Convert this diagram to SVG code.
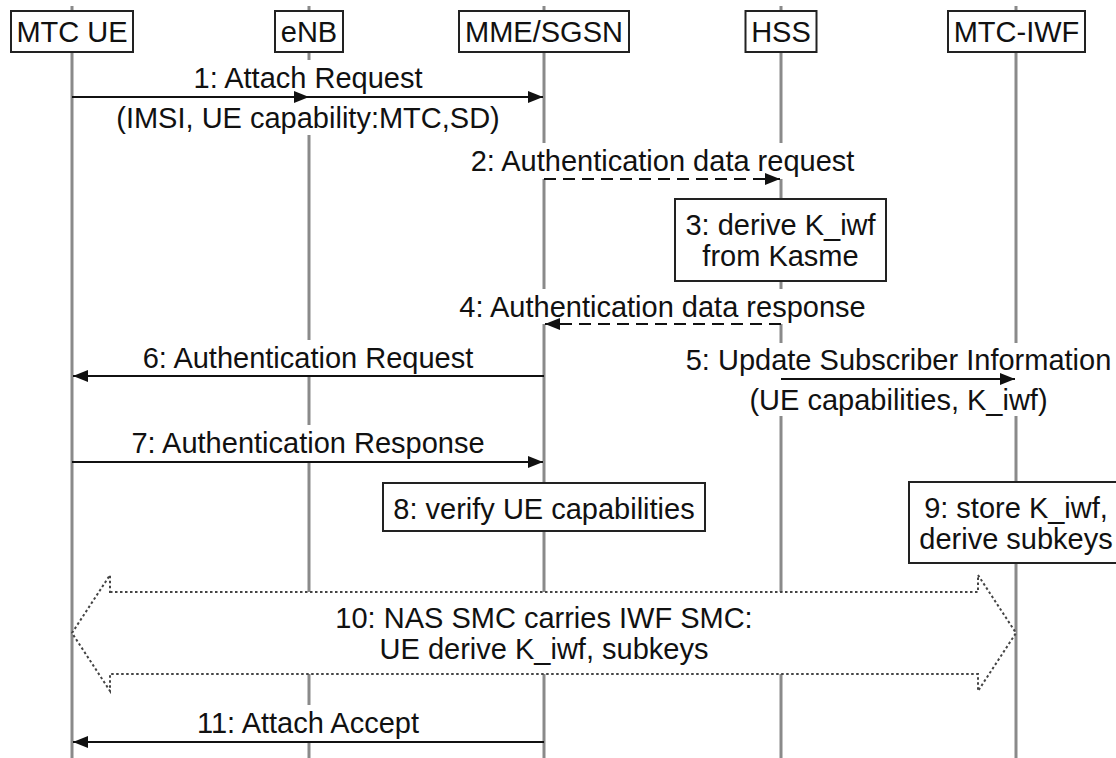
<svg xmlns="http://www.w3.org/2000/svg" width="1116" height="758" viewBox="0 0 1116 758">
  <style>
    text { font-family: "Liberation Sans", Arial, sans-serif; font-size: 29px; fill: #111; text-anchor: middle; }
    .life { stroke: #8a8a8a; stroke-width: 3; fill: none; }
    .box { fill: #fff; stroke: #222; stroke-width: 2; }
    .bg { fill: #fff; stroke: none; }
    .msg { stroke: #111; stroke-width: 2; fill: none; marker-end: url(#head); }
    .dash { stroke-dasharray: 12 7; }
    .dots { fill: #fff; stroke: #444; stroke-width: 2; stroke-dasharray: 2.5 2.5; }
  </style>
  <defs>
    <marker id="head" viewBox="0 0 15 12" refX="15" refY="6" markerWidth="15" markerHeight="12" markerUnits="userSpaceOnUse" orient="auto">
      <path d="M0,0 L15,6 L0,12 Z" fill="#111"/>
    </marker>
  </defs>

  <rect width="1116" height="758" fill="#fff"/>

  <!-- lifelines -->
  <g id="lifelines">
    <line class="life" x1="72" y1="6" x2="72" y2="758"/>
    <line class="life" x1="309" y1="6" x2="309" y2="758"/>
    <line class="life" x1="544" y1="6" x2="544" y2="758"/>
    <line class="life" x1="781" y1="6" x2="781" y2="758"/>
    <line class="life" x1="1016" y1="6" x2="1016" y2="758"/>
  </g>

  <!-- participants -->
  <g id="mtc-ue">
    <rect class="box" x="11" y="11" width="122" height="41"/>
    <text x="72" y="42">MTC UE</text>
  </g>
  <g id="enb">
    <rect class="box" x="275" y="11" width="68" height="41"/>
    <text x="309" y="42">eNB</text>
  </g>
  <g id="mme-sgsn">
    <rect class="box" x="459" y="11" width="170" height="41"/>
    <text x="544" y="42">MME/SGSN</text>
  </g>
  <g id="hss">
    <rect class="box" x="745.5" y="11" width="71" height="41"/>
    <text x="781" y="42">HSS</text>
  </g>
  <g id="mtc-iwf">
    <rect class="box" x="948" y="11" width="137" height="41"/>
    <text x="1016.5" y="42">MTC-IWF</text>
  </g>

  <!-- local actions -->
  <g id="step-3">
    <rect class="box" x="675" y="199" width="211" height="82"/>
    <text x="780.5" y="235">3: derive K_iwf</text>
    <text x="780.5" y="266">from Kasme</text>
  </g>
  <g id="step-8">
    <rect class="box" x="383" y="483" width="322" height="48"/>
    <text x="544" y="519">8: verify UE capabilities</text>
  </g>
  <g id="step-9">
    <rect class="box" x="909" y="482" width="214" height="81"/>
    <text x="1016" y="518">9: store K_iwf,</text>
    <text x="1016" y="549">derive subkeys</text>
  </g>

  <!-- messages -->
  <g id="connectors">
    <g id="msg-1">
      <rect class="bg" x="190" y="60" width="236" height="37"/>
      <rect class="bg" x="113" y="97" width="390" height="38"/>
      <line class="msg" x1="72" y1="97" x2="309" y2="97"/>
      <line class="msg" x1="309" y1="97" x2="543" y2="97"/>
      <text x="308" y="88">1: Attach Request</text>
      <text x="308" y="128">(IMSI, UE capability:MTC,SD)</text>
    </g>
    <g id="msg-2">
      <rect class="bg" x="468" y="143" width="390" height="36"/>
      <line class="msg dash" x1="544" y1="179" x2="780" y2="179"/>
      <text x="662.5" y="171">2: Authentication data request</text>
    </g>
    <g id="msg-4">
      <rect class="bg" x="456" y="289" width="413" height="35"/>
      <line class="msg dash" x1="781" y1="324" x2="545" y2="324"/>
      <text x="662.5" y="317">4: Authentication data response</text>
    </g>
    <g id="msg-5">
      <rect class="bg" x="684" y="343" width="430" height="36"/>
      <rect class="bg" x="744" y="379" width="309" height="37"/>
      <line class="msg" x1="781" y1="379" x2="1015" y2="379"/>
      <text x="898.5" y="370">5: Update Subscriber Information</text>
      <text x="898.5" y="410">(UE capabilities, K_iwf)</text>
    </g>
    <g id="msg-6">
      <rect class="bg" x="140" y="340" width="336" height="36"/>
      <line class="msg" x1="544" y1="376" x2="73" y2="376"/>
      <text x="308" y="368">6: Authentication Request</text>
    </g>
    <g id="msg-7">
      <rect class="bg" x="135" y="425" width="346" height="37"/>
      <line class="msg" x1="72" y1="462" x2="543" y2="462"/>
      <text x="308" y="453">7: Authentication Response</text>
    </g>
    <g id="msg-10">
      <polygon class="dots" points="110,592 978,592 978,575 1016,633 978,691 978,674 110,674 110,691 72,633 110,575"/>
      <text x="544" y="628">10: NAS SMC carries IWF SMC:</text>
      <text x="544" y="659">UE derive K_iwf, subkeys</text>
    </g>
    <g id="msg-11">
      <rect class="bg" x="190" y="705" width="236" height="37"/>
      <line class="msg" x1="544" y1="742" x2="73" y2="742"/>
      <text x="308" y="733">11: Attach Accept</text>
    </g>
  </g>
</svg>
